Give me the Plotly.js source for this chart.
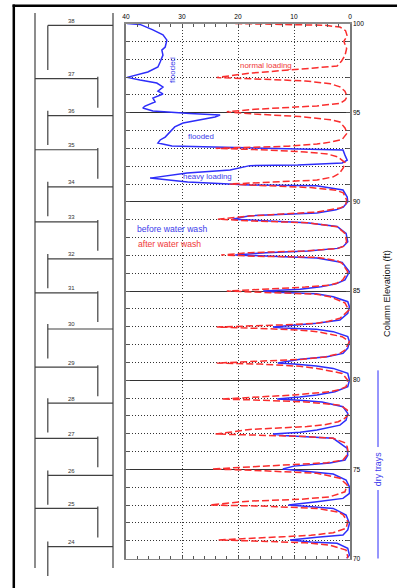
<!DOCTYPE html>
<html>
<head>
<meta charset="utf-8">
<script src="https://cdn.plot.ly/plotly-3.0.1.min.js"></script>
<style>html,body{margin:0;padding:0;background:#fff;}#chart{width:401px;height:588px;}</style>
</head>
<body>
<div id="chart"></div>
<script>
// ---------------- DATA ----------------
// x-axis tick labels (scan intensity, reversed axis)
const xTicks = [40, 30, 20, 10, 0];
// y-axis tick labels (column elevation, ft)
const yTicks = [70, 75, 80, 85, 90, 95, 100];

// Tray numbers and their elevations (ft)
const trayNumbers = [38, 37, 36, 35, 34, 33, 32, 31, 30, 29, 28, 27, 26, 25, 24];
const trayElev = [99.89, 96.91, 94.83, 92.92, 90.84, 88.88, 86.80, 84.89, 82.87, 80.73, 78.71, 76.74, 74.66, 72.81, 70.67];
const shellSpan = [100.59, 69.47];

// After water wash (red dashed)
const redElev = [100.00, 99.96, 99.90, 99.80, 99.60, 99.30, 99.00, 98.60, 98.20, 97.90, 97.62, 97.52, 97.42, 97.21, 96.97,
 96.90, 96.78, 96.62, 96.45, 96.20, 95.90, 95.70, 95.52, 95.38, 95.30, 95.19, 95.05,
 94.92, 94.78, 94.60, 94.48, 94.14, 93.86, 93.50, 93.35, 93.24, 93.12, 93.05, 93.00,
 92.92, 92.80, 92.68, 92.51, 92.20, 91.90, 91.60, 91.40, 91.22, 91.12, 91.05, 91.00,
 90.92, 90.80, 90.65, 90.50, 90.10, 89.80, 89.65, 89.43, 89.32, 89.20, 89.03,
 88.93, 88.83, 88.60, 88.23, 87.76, 87.50, 87.39, 87.24, 87.15, 87.02,
 86.95, 86.89, 86.70, 86.55, 86.08, 85.62, 85.45, 85.33, 85.22, 85.12, 85.00,
 84.93, 84.82, 84.68, 84.33, 83.93, 83.65, 83.47, 83.30, 83.19, 83.10, 83.04, 82.98,
 82.90, 82.81, 82.72, 82.44, 82.16, 81.69, 81.50, 81.30, 81.17, 81.03, 80.96,
 80.90, 80.78, 80.66, 80.38, 80.00, 79.63, 79.48, 79.35, 79.17, 79.04, 78.94,
 78.88, 78.78, 78.60, 78.33, 78.05, 77.85, 77.67, 77.50, 77.40, 77.24, 77.10, 76.98,
 76.92, 76.84, 76.74, 76.50, 76.27, 75.90, 75.52, 75.37, 75.24, 75.15, 75.02,
 74.94, 74.78, 74.50, 74.12, 73.74, 73.46, 73.32, 73.22, 73.10, 73.00,
 72.94, 72.81, 72.60, 72.44, 72.06, 71.69, 71.45, 71.30, 71.22, 71.13, 71.04,
 70.97, 70.88, 70.75, 70.47, 70.10, 70.00];
const redVal = [20.5, 12, 4.5, 1.8, 0.8, 0.5, 1.1, 0.6, 0.9, 1.5, 2.3, 5.9, 10, 18, 23.8,
 17, 8, 3.5, 1.8, 0.9, 0.5, 0.9, 1.8, 5.9, 10, 17, 22,
 17, 8.9, 3.5, 1.8, 0.9, 0.5, 1.4, 3.5, 5.9, 11, 18, 24,
 16, 8, 4, 2.1, 0.9, 1.2, 1.9, 3.0, 5.9, 12, 17.9, 21.5,
 16, 7, 2.5, 1.2, 0.6, 0.8, 1.8, 5.9, 12, 17.9, 23.6,
 17.9, 7.7, 2.3, 0.9, 0.6, 1.2, 2.1, 8.4, 17.9, 23,
 17, 5.9, 2.3, 1.4, 0.4, 1.3, 2.3, 3.6, 8, 14, 22,
 16, 6, 3.6, 0.9, 0.2, 1.25, 1.8, 3.8, 5.9, 11.9, 17.9, 23.8,
 16, 9, 5.9, 1.4, 0.1, 0.9, 1.8, 4.5, 8.4, 17.9, 23.8,
 16, 9, 5.9, 1.4, 0.4, 0.7, 1.8, 3.6, 10, 17.9, 23,
 16, 8, 1.8, 0.5, 0.3, 1.0, 2.1, 4.5, 7.7, 17.9, 21, 24,
 17, 8, 3, 1.0, 0.5, 0.3, 1.25, 4.1, 11.9, 17.9, 24.6,
 17, 5.9, 1.8, 0.5, 0.9, 3.6, 8.9, 17.9, 22, 25,
 16, 5.9, 2, 1.2, 0.4, 0.7, 3.0, 7, 11.9, 17.9, 23.5,
 16, 8, 3.6, 0.7, 0.4, 0.5];

// Before water wash (blue solid)
const blueElev = [100.00, 99.95, 99.64, 99.36, 99.07, 98.68, 98.51, 98.23, 97.84, 97.56, 97.28, 96.98,
 96.83, 96.66, 96.44, 96.21, 96.05, 95.82, 95.60, 95.37, 95.26, 95.09, 94.95, 94.87,
 94.76, 94.59, 94.42, 94.20, 93.91, 93.63, 93.47, 93.30, 93.13, 93.05, 92.99, 92.91,
 92.62, 92.34, 92.18, 92.06, 92.03, 91.78, 91.62, 91.33, 91.11, 91.00, 90.94, 90.90, 90.66, 90.27,
 90.00, 89.70, 89.55, 89.38, 89.22, 89.03,
 88.93, 88.83, 88.62, 88.23, 87.76, 87.50, 87.39, 87.24, 87.15, 87.02,
 86.95, 86.85, 86.60, 86.08, 85.62, 85.40, 85.24, 85.10, 85.00,
 84.93, 84.85, 84.68, 84.40, 84.12, 83.75, 83.37, 83.19, 83.10, 82.98,
 82.92, 82.85, 82.72, 82.44, 82.16, 81.80, 81.50, 81.31, 81.17, 80.96,
 80.90, 80.80, 80.66, 80.38, 80.00, 79.63, 79.35, 79.17, 79.05, 78.94,
 78.88, 78.78, 78.51, 78.14, 77.76, 77.48, 77.20, 77.08, 76.98,
 76.90, 76.74, 76.18, 75.79, 75.52, 75.35, 75.18, 75.02,
 74.92, 74.74, 74.40, 74.02, 73.65, 73.37, 73.18, 73.00,
 72.93, 72.81, 72.44, 71.97, 71.60, 71.32, 71.19, 71.04,
 70.92, 70.85, 70.57, 70.19, 70.00];
const blueVal = [39.8, 37.5, 35.2, 33.4, 32.7, 33.0, 33.6, 33.4, 33.9, 34.3, 36.1, 39.8,
 37.5, 34.5, 33.4, 34.3, 33.4, 35.2, 34.8, 36.6, 37.0, 35.2, 28.6, 23.2,
 24.1, 26.8, 29.8, 31.3, 32.1, 33.0, 33.9, 34.3, 31.8, 21.4, 8.9, 1.25,
 0.9, 0.5, 1.4, 9.3, 17.9, 21.4, 29.1, 35.7, 29, 21.4, 17.9, 6, 1.25, 0.5,
 0.4, 1.2, 2.5, 5.9, 17.9, 21,
 15, 7.7, 2.3, 0.7, 0.4, 1.2, 2.3, 7.5, 15, 20.5,
 14, 5.9, 1.4, 0.1, 0.9, 2.5, 5.2, 8.9, 15.5,
 13, 6, 3, 0.4, 0.1, 0.4, 1.8, 5.9, 10, 13.75,
 12, 6, 3, 0.4, 0.1, 0.4, 1.25, 4.1, 8.9, 12.9,
 10, 6, 3, 0.4, 0.1, 0.4, 2.7, 5.9, 9, 13,
 9, 5, 1.25, 0.4, 0.7, 1.8, 5.9, 8.9, 13.75,
 11.9, 3, 0.5, 0.4, 0.9, 3.6, 10, 12,
 9, 3, 0.7, 0.1, 0.1, 1.25, 5.9, 11,
 8, 3, 0.7, 0.1, 0.4, 1.25, 5.9, 10.7,
 7, 2.3, 0.4, 0.1, 0.6];

// "dry trays" bracket span (ft): top, gap top, gap bottom, bottom
const dryTraySpan = [80.55, 76.25, 73.84, 70.0];

// ---------------- LAYOUT GEOMETRY ----------------
const W = 401, H = 588;
const plotL = 126, plotR = 350, plotT = 23.5, plotB = 558.5;
const pxPerFt = (plotB - plotT) / 30;
const y2Top = 100 + plotT / pxPerFt;
const y2Bot = 100 - (H - plotT) / pxPerFt;
const FONT = 'Liberation Sans, Arial, Helvetica, sans-serif';
const BLUE = 'rgb(45,45,250)';
const RED = 'rgb(250,45,45)';
const BLUE_T = 'rgb(60,60,235)';
const RED_T = 'rgb(240,55,55)';

// Schematic horizontal positions (pixel units on x2)
const WALL_L = 35, WALL_R = 113, EVEN_DC = 47.8, ODD_DC = 97.8, LABEL_X = 71, DRY_X = 378;

// build schematic segments
const sx = [], sy = [];
function seg(x0, y0, x1, y1) { sx.push(x0, x1, null); sy.push(y0, y1, null); }
seg(WALL_L, shellSpan[0], WALL_L, shellSpan[1]);
seg(WALL_R, shellSpan[0], WALL_R, shellSpan[1]);
trayNumbers.forEach((n, i) => {
  const e = trayElev[i];
  if (n % 2 === 0) {
    seg(EVEN_DC, e, WALL_R, e);
    const top = i === 0 ? e : e + 0.28;
    const bot = i === 0 ? e - 2.5 : e - 1.65;
    seg(EVEN_DC, top, EVEN_DC, bot);
  } else {
    seg(WALL_L, e, ODD_DC, e);
    seg(ODD_DC, e + 0.1, ODD_DC, e - 1.63);
  }
});

const traces = [
  { x: blueVal, y: blueElev, xaxis: 'x', yaxis: 'y', type: 'scatter', mode: 'lines',
    line: { color: BLUE, width: 1.5 }, hoverinfo: 'skip' },
  { x: redVal, y: redElev, xaxis: 'x', yaxis: 'y', type: 'scatter', mode: 'lines',
    line: { color: RED, width: 1.5, dash: '7px,3px' }, hoverinfo: 'skip' },
  { x: sx, y: sy, xaxis: 'x2', yaxis: 'y2', type: 'scatter', mode: 'lines',
    line: { color: '#404040', width: 1.2 }, hoverinfo: 'skip', connectgaps: false },
  { x: [DRY_X, DRY_X, null, DRY_X, DRY_X],
    y: [dryTraySpan[0], dryTraySpan[1], null, dryTraySpan[2], dryTraySpan[3]],
    xaxis: 'x2', yaxis: 'y2', type: 'scatter', mode: 'lines',
    line: { color: BLUE, width: 1 }, hoverinfo: 'skip', connectgaps: false }
];

const annotations = [];
trayNumbers.forEach((n, i) => {
  annotations.push({ xref: 'x2', yref: 'y2', x: LABEL_X, y: trayElev[i] + 0.26, text: String(n),
    showarrow: false, font: { family: FONT, size: 6, color: '#333' }, xanchor: 'center', yanchor: 'middle' });
});
function ann(x, y, text, color, size, angle, extra) {
  annotations.push(Object.assign({ xref: 'x', yref: 'y', x: x, y: y, text: text, showarrow: false,
    font: { family: FONT, size: size, color: color }, textangle: angle || 0,
    xanchor: 'center', yanchor: 'middle' }, extra || {}));
}
ann(15.0, 97.62, 'normal loading', RED_T, 7.9);
ann(31.8, 97.39, 'flooded', BLUE_T, 7.9, -90);
ann(26.6, 93.69, 'flooded', BLUE_T, 7.9);
ann(25.45, 91.42, 'heavy loading', BLUE_T, 7.9);
ann(31.8, 88.48, 'before water wash', BLUE_T, 8.6);
ann(32.2, 87.64, 'after water wash', RED_T, 8.6);
annotations.push({ xref: 'x2', yref: 'y2', x: DRY_X - 0.5, y: 74.98, text: 'dry trays', showarrow: false,
  textangle: -90, font: { family: FONT, size: 8.8, color: BLUE_T }, xanchor: 'center', yanchor: 'middle' });
annotations.push({ xref: 'x2', yref: 'y2', x: 386.5, y: 84.86, text: 'Column Elevation (ft)', showarrow: false,
  textangle: -90, font: { family: FONT, size: 9.3, color: '#111' }, xanchor: 'center', yanchor: 'middle' });

const layout = {
  width: W, height: H,
  margin: { l: 0, r: 0, t: 0, b: 0, pad: 0 },
  paper_bgcolor: '#ffffff', plot_bgcolor: 'rgba(0,0,0,0)',
  showlegend: false,
  xaxis: {
    domain: [plotL / W, plotR / W], range: [40, 0], side: 'top', anchor: 'y',
    tickvals: xTicks, ticktext: xTicks.map(String),
    showgrid: true, gridcolor: '#3a3a3a', griddash: '1px,2px', gridwidth: 1,
    ticks: 'inside', ticklen: 3, tickcolor: '#555', tickwidth: 1,
    minor: { dtick: 2, tick0: 0, ticks: 'inside', ticklen: 3, tickcolor: '#555', showgrid: false },
    showline: true, linecolor: '#8a8a8a', linewidth: 1.6, mirror: 'allticks',
    zeroline: false, fixedrange: true,
    tickfont: { family: FONT, size: 6.6, color: '#000' }
  },
  yaxis: {
    domain: [1 - plotB / H, 1 - plotT / H], range: [70, 100], side: 'right', anchor: 'x',
    tickvals: yTicks, ticktext: yTicks.map(String),
    showgrid: true, gridcolor: '#333', gridwidth: 1,
    minor: { dtick: 1, tick0: 70, showgrid: true, griddash: '1px,2px', gridcolor: '#333', gridwidth: 1,
             ticks: 'inside', ticklen: 4, tickcolor: '#555' },
    ticks: 'inside', ticklen: 4, tickcolor: '#555',
    showline: true, linecolor: '#7a7a7a', linewidth: 1.6, mirror: 'allticks',
    zeroline: false, fixedrange: true,
    tickfont: { family: FONT, size: 6.6, color: '#000' }
  },
  xaxis2: { domain: [0, 1], range: [0, W], anchor: 'y2', visible: false, fixedrange: true },
  yaxis2: { domain: [0, 1], range: [y2Bot, y2Top], anchor: 'x2', visible: false, fixedrange: true },
  shapes: [
    { type: 'line', xref: 'paper', yref: 'paper', x0: 12.6 / W, x1: 397 / W, y0: 1 - 5.8 / H, y1: 1 - 5.8 / H,
      line: { color: '#000', width: 2.5 } },
    { type: 'line', xref: 'paper', yref: 'paper', x0: 13.8 / W, x1: 13.8 / W, y0: 1 - 4.6 / H, y1: 0,
      line: { color: '#000', width: 2.5 } }
  ],
  annotations: annotations
};

Plotly.newPlot('chart', traces, layout, { staticPlot: true, displayModeBar: false });
</script>
</body>
</html>
